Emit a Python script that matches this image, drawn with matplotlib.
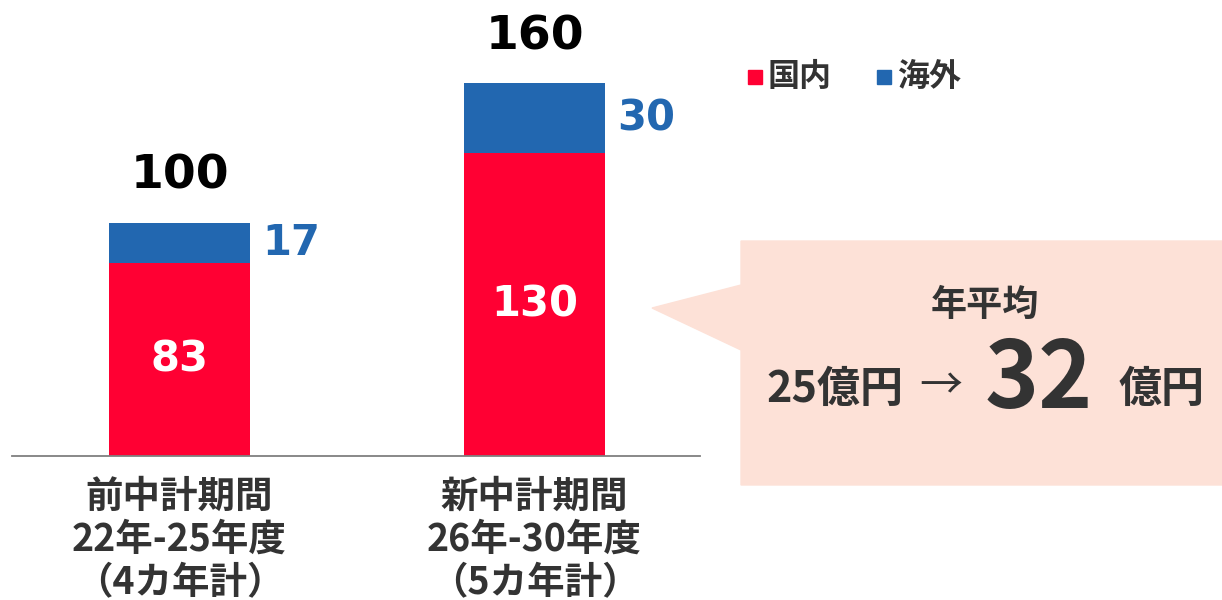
import matplotlib
matplotlib.use("Agg")
import matplotlib.pyplot as plt
from matplotlib.patches import Polygon, Rectangle
import numpy as np

# data
categories = ["前中計期間\n22年-25年度\n（4カ年計）", "新中計期間\n26年-30年度\n（5カ年計）"]
domestic = [83, 130]
overseas = [17, 30]
series_names = ["国内", "海外"]
avg_before = 25
avg_after = 32

RED = "#FF0033"
BLUE = "#2267B0"
DARK = "#333333"
PINK = "#FDE1D7"
JP = ["Noto Sans CJK JP", "DejaVu Sans"]
NUM = ["DejaVu Sans"]

W, H = 1222, 600
fig = plt.figure(figsize=(W / 100, H / 100), dpi=100)

def px(x, y):
    return x / W, 1 - y / H

# axes: baseline at y=456px, line spans x 12..700
ax = fig.add_axes([12 / W, (H - 456) / H, (700 - 12) / W, 456 / H])
x = np.arange(len(categories))
ax.set_xlim(-167.5 / 355, 1 + 165.5 / 355)
ax.set_ylim(0, 456 / 2.33)
width = 141 / 355

totals = [d + o for d, o in zip(domestic, overseas)]
ax.bar(x, domestic, width, color=RED, zorder=2)
ax.bar(x, overseas, width, bottom=domestic, color=BLUE, zorder=2)

for i in range(len(x)):
    ax.text(x[i], domestic[i] / 2, f"{domestic[i]}", ha="center", va="center",
            color="white", fontsize=30, fontweight="bold", family=NUM)
    ax.text(x[i] + width / 2 + 0.035, domestic[i] + overseas[i] / 2, f"{overseas[i]}",
            ha="left", va="center", color=BLUE, fontsize=30, fontweight="bold", family=NUM)
    ax.text(x[i], totals[i] + 20, f"{totals[i]}", ha="center", va="center",
            color="black", fontsize=34, fontweight="bold", family=NUM)

for s in ["top", "right", "left"]:
    ax.spines[s].set_visible(False)
ax.spines["bottom"].set_color("#7f7f7f")
ax.spines["bottom"].set_linewidth(1.3)
ax.set_yticks([])
ax.set_xticks(x)
ax.set_xticklabels(categories, fontsize=27, fontweight="bold", color=DARK,
                   family=JP, linespacing=1.13)
ax.tick_params(axis="x", length=0, pad=15)

# legend
for (lx, col, name) in [(748, RED, series_names[0]), (877, BLUE, series_names[1])]:
    fig.patches.append(Rectangle(px(lx, 84), 14 / W, 14 / H, color=col,
                                 transform=fig.transFigure))
    fig.text(*px(lx + 20, 77), name, ha="left", va="center", fontsize=23,
             fontweight="bold", color=DARK, family=JP)

# callout
pts = [px(741, 241), px(1222, 241), px(1222, 485), px(741, 485),
       px(741, 350), px(652, 308), px(741, 285)]
fig.patches.append(Polygon(pts, closed=True, color=PINK, transform=fig.transFigure, zorder=0))
fig.text(*px(985, 305), "年平均", ha="center", va="center", fontsize=26,
         fontweight="bold", color=DARK, family=JP)
fig.text(*px(766, 389), f"{avg_before}億円", ha="left", va="center", fontsize=31,
         fontweight="bold", color=DARK, family=JP)
fig.text(*px(941, 387), "→", ha="center", va="center", fontsize=31,
         color=DARK, family=JP)
fig.text(*px(1039, 381), f"{avg_after}", ha="center", va="center", fontsize=66,
         fontweight="bold", color=DARK, family=JP)
fig.text(*px(1119, 389), "億円", ha="left", va="center", fontsize=31,
         fontweight="bold", color=DARK, family=JP)

fig.savefig("out.png", dpi=100)
